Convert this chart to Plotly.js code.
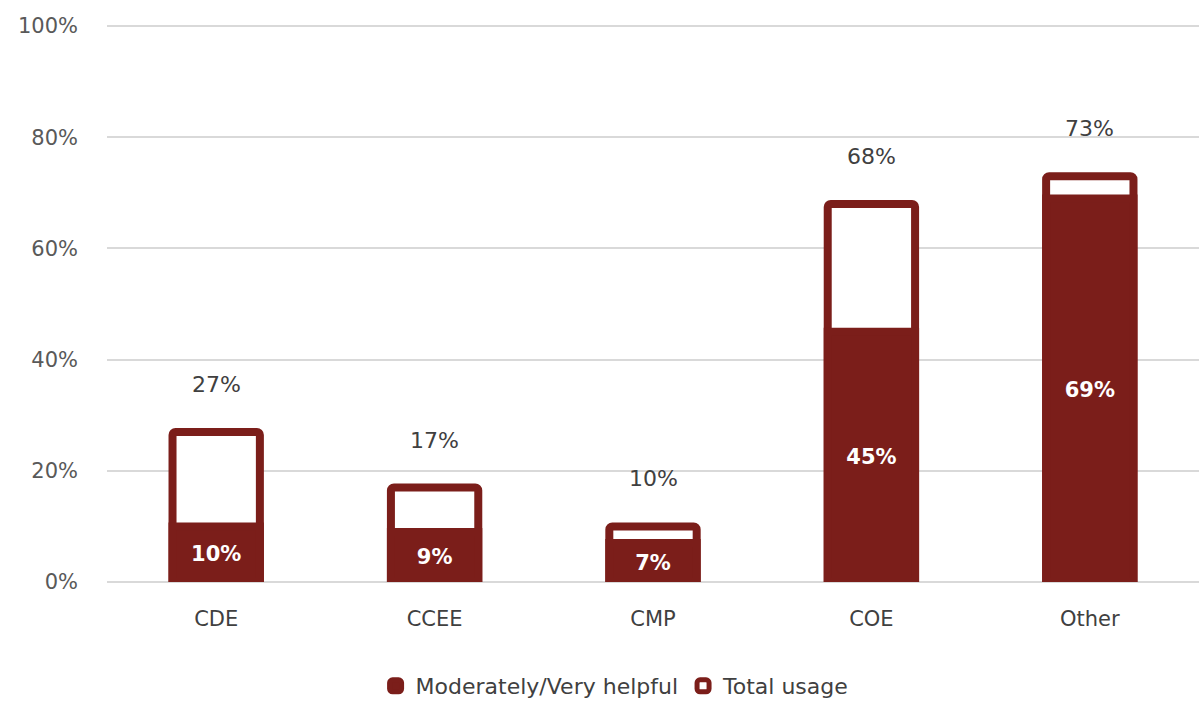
<!DOCTYPE html>
<html>
<head>
<meta charset="utf-8">
<script src="https://cdn.plot.ly/plotly-3.0.1.min.js"></script>
<style>html,body{margin:0;padding:0;background:#fff;}#chart{width:1199px;height:707px;}</style>
</head>
<body>
<div id="chart"></div>
<script>
var categories = ["CDE", "CCEE", "CMP", "COE", "Other"];
var totalUsage = [27, 17, 10, 68, 73];
var helpful = [10, 9, 7, 45, 69];
var yTickVals = [0, 20, 40, 60, 80, 100];
var yTickText = ["0%", "20%", "40%", "60%", "80%", "100%"];

var red = "#7B1E1A";
var fontFam = "DejaVu Sans, Liberation Sans, sans-serif";

var traceTotal = {
  type: "bar", name: "Total usage", x: categories, y: totalUsage,
  marker: {color: "#ffffff", line: {color: red, width: 8}, cornerradius: 3},
  hoverinfo: "none"
};
var traceHelpful = {
  type: "bar", name: "Moderately/Very helpful", x: categories, y: helpful,
  marker: {color: red, line: {color: red, width: 8}, cornerradius: 3},
  text: helpful.map(function(v){return v + "%";}),
  textposition: "inside", insidetextanchor: "middle", constraintext: "none",
  textangle: 0,
  textfont: {color: "#ffffff", size: 21, family: fontFam, weight: "bold"},
  hoverinfo: "none"
};

var annotations = categories.map(function(c, i){
  return {x: c, y: totalUsage[i], text: totalUsage[i] + "%", showarrow: false,
    yanchor: "bottom", yshift: 33, font: {size: 22, color: "#404040", family: fontFam}};
});

var layout = {
  width: 1199, height: 707,
  margin: {l: 107, r: 0, t: 25, b: 125},
  barmode: "overlay", bargap: 0.6,
  paper_bgcolor: "#ffffff", plot_bgcolor: "#ffffff",
  font: {family: fontFam, color: "#595959", size: 21},
  xaxis: {tickfont: {size: 21, color: "#404040"}, showline: false, showgrid: false, ticks: "",
    zeroline: false, ticklabelstandoff: 22},
  yaxis: {range: [0, 100.2], tickvals: yTickVals, ticktext: yTickText,
    tickfont: {size: 21, color: "#595959"}, gridcolor: "#d9d9d9", gridwidth: 2,
    zeroline: true, zerolinecolor: "#d9d9d9", zerolinewidth: 2, ticks: "", ticklabelstandoff: 28},
  legend: {orientation: "h", x: 0.513, xanchor: "center", xref: "container",
    y: 0, yanchor: "bottom", yref: "container",
    traceorder: "reversed", font: {size: 22, color: "#404040"}},
  annotations: annotations,
  showlegend: true
};

Plotly.newPlot("chart", [traceTotal, traceHelpful], layout, {displayModeBar: false, staticPlot: true});
</script>
</body>
</html>
